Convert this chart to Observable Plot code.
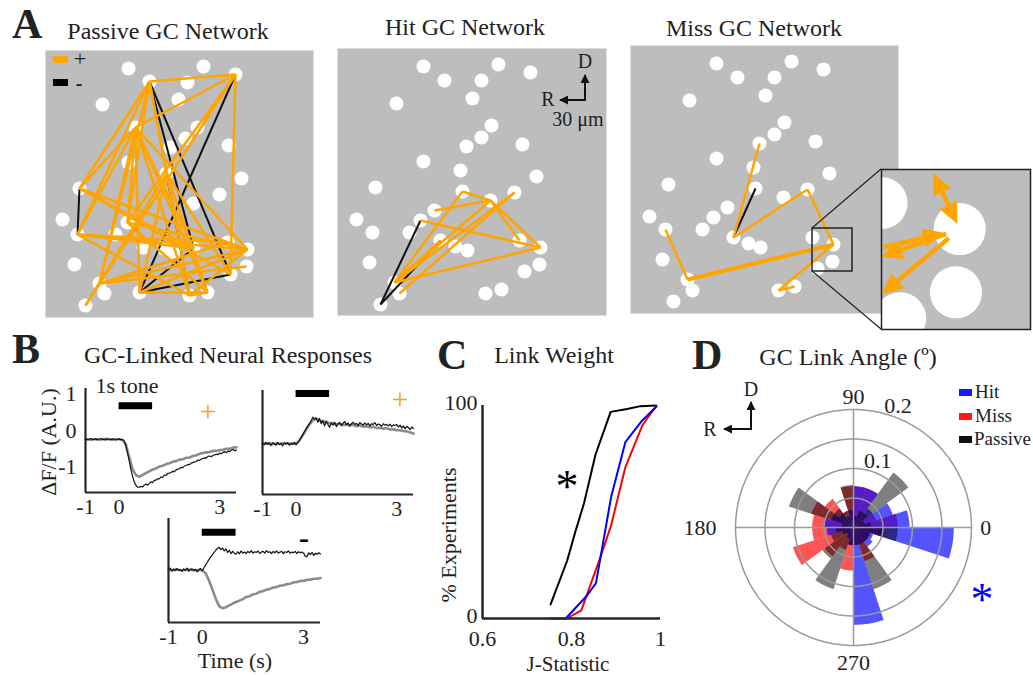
<!DOCTYPE html>
<html><head><meta charset="utf-8">
<script src="https://cdn.jsdelivr.net/npm/d3@7"></script>
<script src="https://cdn.jsdelivr.net/npm/@observablehq/plot@0.6"></script>
<style>
body{margin:0;background:#fff;}
#fig{position:relative;width:1033px;height:675px;overflow:hidden;background:#fff;}
</style></head>
<body><div id="fig"></div>
<script>
// ---------------- DATA ----------------
// Panel A: cell positions inside each 268×268 field
const passiveDots = [[83,18],[158,16],[190,24],[104,31],[142,32],[57,54],[133,49],[152,77],[140,88],[90,77],[183,95],[83,112],[125,97],[196,128],[174,144],[34,138],[121,123],[148,153],[17,169],[82,172],[32,184],[70,184],[98,197],[118,198],[128,202],[182,192],[202,199],[29,214],[201,216],[185,224],[54,233],[59,243],[40,255],[94,242],[144,245],[162,242],[148,198]];
const taskDots = [[86,18],[161,16],[193,24],[107,32],[144,32],[59,55],[135,50],[154,77],[144,89],[129,98],[185,96],[86,113],[123,122],[199,128],[38,139],[125,143],[177,144],[153,152],[97,162],[19,171],[83,172],[35,184],[72,184],[103,192],[118,198],[130,202],[182,192],[203,199],[32,214],[202,216],[187,223],[57,234],[62,245],[43,256],[148,245],[164,241]];
const passivePos = [[4,3],[3,30],[4,16],[4,21],[4,20],[4,35],[4,31],[4,17],[3,10],[3,33],[3,20],[10,16],[10,21],[10,20],[10,34],[10,35],[10,36],[10,27],[10,31],[10,37],[16,27],[16,30],[16,37],[21,27],[21,26],[21,35],[21,37],[20,27],[20,36],[31,27],[31,29],[31,26],[34,27],[34,36],[35,36],[35,27],[17,34],[17,33],[17,30],[17,36]];
const passiveNeg = [[16,21],[4,37],[4,30],[3,34],[34,30],[34,37],[17,35]];
const hitPos = [[19,18],[16,18],[18,28],[18,27],[21,28],[28,32],[17,32],[17,33],[18,32],[16,32],[24,32]];
const hitNeg = [[34,21],[34,24]];
const missPos = [[10,24],[24,17],[17,28],[22,32],[28,35],[35,36]];
const missPosDouble = [[28,32]];
const missNeg = [[16,24]];
const zoomRegion = {x1:182, x2:222, y1:183, y2:226};
// inset arrows: [fromDot, towardDot, startDist, endDist]
const insetArrows = [[28,17,9,1.8],[28,17,9,16.3],[28,32,21,4.7],[28,34,3.8,22],[28,35,3.8,27]];

// Panel B: traces
const tSec = [-1.0,-0.9,-0.8,-0.7,-0.6,-0.5,-0.4,-0.3,-0.2,-0.1,0.0,0.1,0.2,0.3,0.4,0.5,0.6,0.7,0.8,0.9,1.0,1.1,1.2,1.3,1.4,1.5,1.6,1.7,1.8,1.9,2.0,2.1,2.2,2.3,2.4,2.5,2.6,2.7,2.8,2.9,3.0,3.1,3.2,3.3,3.4,3.5];
const tFine = [-1.0,-0.95,-0.9,-0.85,-0.8,-0.75,-0.7,-0.65,-0.6,-0.55,-0.5,-0.45,-0.4,-0.35,-0.3,-0.25,-0.2,-0.15,-0.1,-0.05,0.0,0.05,0.1,0.15,0.2,0.25,0.3,0.35,0.4,0.45,0.5,0.55,0.6,0.65,0.7,0.75,0.8,0.85,0.9,0.95,1.0,1.05,1.1,1.15,1.2,1.25,1.3,1.35,1.4,1.45,1.5,1.55,1.6,1.65,1.7,1.75,1.8,1.85,1.9,1.95,2.0,2.05,2.1,2.15,2.2,2.25,2.3,2.35,2.4,2.45,2.5,2.55,2.6,2.65,2.7,2.75,2.8,2.85,2.9,2.95,3.0,3.05,3.1,3.15,3.2,3.25,3.3,3.35,3.4,3.45,3.5];
const gray1 = [-0.24,-0.25,-0.24,-0.24,-0.25,-0.24,-0.23,-0.24,-0.25,-0.24,-0.24,-0.26,-0.38,-0.72,-1.05,-1.22,-1.27,-1.22,-1.17,-1.12,-1.07,-1.04,-0.99,-0.97,-0.92,-0.9,-0.86,-0.84,-0.8,-0.79,-0.75,-0.74,-0.7,-0.68,-0.64,-0.62,-0.6,-0.59,-0.56,-0.56,-0.54,-0.53,-0.5,-0.5,-0.47,-0.46];
const black1 = [-0.23,-0.25,-0.24,-0.22,-0.26,-0.24,-0.23,-0.25,-0.24,-0.22,-0.25,-0.24,-0.26,-0.23,-0.24,-0.25,-0.23,-0.24,-0.26,-0.24,-0.23,-0.25,-0.25,-0.28,
  -0.40,-0.60,-0.82,-1.05,-1.25,-1.40,-1.50,-1.55,-1.56,-1.53,-1.55,-1.50,-1.47,-1.50,-1.45,-1.41,-1.43,
  -1.37,-1.36,-1.32,-1.33,-1.27,-1.29,-1.22,-1.23,-1.18,-1.17,-1.15,-1.12,-1.13,-1.08,-1.06,-1.05,-1.01,-1.02,-0.97,-0.96,
  -0.93,-0.94,-0.89,-0.88,-0.86,-0.85,-0.81,-0.82,-0.78,-0.77,-0.75,-0.76,-0.71,-0.70,-0.72,-0.68,-0.67,-0.65,-0.66,-0.62,
  -0.64,-0.60,-0.58,-0.61,-0.56,-0.58,-0.54,-0.52,-0.56,-0.53];
const gray2 = [-0.3,-0.31,-0.29,-0.32,-0.3,-0.31,-0.3,-0.29,-0.31,-0.3,-0.31,-0.22,-0.08,0.08,0.22,0.33,0.38,0.33,0.29,0.3,0.25,0.26,0.22,0.24,0.2,0.22,0.19,0.21,0.17,0.19,0.16,0.17,0.14,0.16,0.12,0.13,0.1,0.12,0.08,0.09,0.06,0.06,0.04,0.03,0.0,-0.03];
const black2 = [-0.30,-0.34,-0.27,-0.33,-0.29,-0.36,-0.28,-0.31,-0.35,-0.27,-0.33,-0.30,-0.37,-0.29,-0.32,-0.28,-0.35,-0.30,-0.33,-0.27,-0.34,-0.28,-0.22,-0.14,
  -0.06,0.02,0.10,0.18,0.24,0.32,0.42,0.36,0.40,0.28,0.38,0.24,0.33,0.18,0.30,0.22,0.14,
  0.26,0.20,0.28,0.16,0.24,0.27,0.19,0.25,0.30,0.21,0.26,0.18,0.24,0.28,0.22,0.25,0.19,0.27,0.23,0.20,
  0.26,0.21,0.25,0.18,0.24,0.22,0.27,0.19,0.23,0.21,0.17,0.24,0.20,0.22,0.18,0.23,0.16,0.21,0.19,0.22,
  0.15,0.20,0.12,0.18,0.10,0.17,0.13,0.08,0.15,0.11];
const gray3 = [-0.26,-0.27,-0.25,-0.26,-0.27,-0.26,-0.25,-0.26,-0.27,-0.26,-0.27,-0.35,-0.55,-0.8,-1.05,-1.25,-1.31,-1.28,-1.23,-1.18,-1.14,-1.1,-1.06,-1.0,-0.98,-0.93,-0.91,-0.86,-0.84,-0.8,-0.78,-0.74,-0.73,-0.69,-0.68,-0.65,-0.64,-0.6,-0.59,-0.56,-0.56,-0.53,-0.53,-0.5,-0.5,-0.48];
const black3 = [-0.26,-0.21,-0.29,-0.24,-0.28,-0.22,-0.27,-0.25,-0.30,-0.23,-0.27,-0.21,-0.29,-0.25,-0.23,-0.28,-0.24,-0.31,-0.25,-0.22,-0.28,-0.20,-0.12,-0.05,
  0.03,0.10,0.16,0.22,0.28,0.33,0.36,0.30,0.34,0.26,0.32,0.22,0.28,0.19,0.25,0.20,0.17,
  0.24,0.18,0.26,0.20,0.23,0.19,0.25,0.21,0.27,0.20,0.24,0.22,0.26,0.19,0.23,0.25,0.20,0.27,0.22,0.24,
  0.19,0.25,0.21,0.26,0.20,0.23,0.25,0.19,0.24,0.22,0.26,0.20,0.23,0.21,0.25,0.19,0.24,0.21,0.23,0.20,
  0.12,0.10,0.21,0.16,0.22,0.14,0.20,0.17,0.21,0.18];
const toneOn = 0, toneOff = 1;
const toneLevel = [0.68, 1.07, 0.77];
const bXTicks = [-1,0,3];
const bYTicks = [-1,0,1];

// Panel C: cumulative link weight distributions
const jPassive = [0.753,0.79,0.809,0.828,0.854,0.888,0.925,0.955,0.989];
const pctPassive = [6.6,27,41,54,77,97,98.4,99.7,100];
const jMiss = [0.79,0.822,0.865,0.889,0.921,0.959,0.991];
const pctMiss = [0,3.8,28.8,43.7,71,90.6,100];
const jHit = [0.753,0.787,0.835,0.855,0.889,0.921,0.959,0.991];
const pctHit = [0,0,10.8,16.6,57,82.8,93,99.5];
const cXTicks = [0.6,0.8,1];
const cYTicks = [0,100];

// Panel D: link angle histograms, 20 bins of 18°
const binWidth = 18;
const hitAngle     = [0.095,0.07,0.04,0.07,0.07,0.03,0.02,0.03,0.04,0.05,0.045,0.02,0.015,0.02,0.03,0.165,0.03,0.04,0.035,0.17];
const missAngle    = [0.075,0.04,0.03,0.07,0.07,0.07,0.03,0.06,0.075,0.07,0.07,0.108,0.06,0.04,0.073,0.03,0.06,0.03,0.03,0.05];
const passiveAngle = [0.03,0.02,0.115,0.03,0.02,0.072,0.03,0.04,0.115,0.02,0.03,0.04,0.065,0.11,0.03,0.03,0.11,0.03,0.03,0.075];
const ringValues = [0.05,0.1,0.15,0.2];
const ringLabels = [0.1,0.2];
const angleLabels = [{a:0,label:"0",r:0.224},{a:90,label:"90",r:0.222},{a:180,label:"180",r:0.26},{a:270,label:"270",r:0.23}];

// ---------------- STYLE / HELPERS ----------------
const FONT = '"Liberation Serif","Times New Roman",Times,serif';
const INK = "#222";
const GRAY = "#bdbdbd";
const ORANGE = "#ffa500";
const baseStyle = {fontFamily: FONT, fontSize: "22px", color: INK, background: "transparent", overflow: "visible"};
const fig = document.getElementById("fig");
function place(el, left, top) {
  el.style.position = "absolute"; el.style.left = left + "px"; el.style.top = top + "px";
  fig.appendChild(el); return el;
}
const fmt = d => String(d);

// ---------------- PANEL A ----------------
function netPlot(dots, pos, neg, size, extra = [], posThick = []) {
  const L = E => E.map(([a, b]) => ({x1: dots[a-1][0], y1: dots[a-1][1], x2: dots[b-1][0], y2: dots[b-1][1]}));
  return Plot.plot({
    width: size[0], height: size[1], margin: 0,
    x: {domain: [0, size[0]], axis: null}, y: {domain: [size[1], 0], axis: null},
    style: baseStyle,
    marks: [
      Plot.frame({fill: GRAY, stroke: "none"}),
      Plot.dot(dots, {x: d => d[0], y: d => d[1], r: 7, fill: "white"}),
      Plot.link(L(neg), {x1: "x1", y1: "y1", x2: "x2", y2: "y2", stroke: "#111", strokeWidth: 2}),
      Plot.link(L(pos), {x1: "x1", y1: "y1", x2: "x2", y2: "y2", stroke: ORANGE, strokeWidth: 2.5}),
      Plot.link(L(posThick), {x1: "x1", y1: "y1", x2: "x2", y2: "y2", stroke: ORANGE, strokeWidth: 4}),
      ...extra
    ]
  });
}
place(netPlot(passiveDots, passivePos, passiveNeg, [268, 267]), 45, 50);
place(netPlot(taskDots, hitPos, hitNeg, [269, 267]), 337, 48);
place(netPlot(taskDots, missPos, missNeg, [268, 268],
  [Plot.rect([zoomRegion], {x1: "x1", x2: "x2", y1: "y1", y2: "y2", fill: "none", stroke: INK, strokeWidth: 1.5})],
  missPosDouble), 630, 45);

// inset (magnified view of zoomRegion)
const insetW = 149, insetH = 160, insetLeft = 881, insetTop = 169;
const headLen = 5.2, headHalf = 2.4, shaft = [], heads = [];
insetArrows.forEach(([a, b, s0, s1], i) => {
  const A = taskDots[a-1], B = taskDots[b-1];
  const dx = B[0]-A[0], dy = B[1]-A[1], n = Math.hypot(dx, dy), ux = dx/n, uy = dy/n;
  const sgn = s1 > s0 ? 1 : -1;
  const tx = A[0]+ux*s1, ty = A[1]+uy*s1;
  const bx = tx - sgn*ux*headLen, by = ty - sgn*uy*headLen;
  shaft.push({x1: A[0]+ux*s0, y1: A[1]+uy*s0, x2: tx - sgn*ux*headLen*0.7, y2: ty - sgn*uy*headLen*0.7});
  heads.push({k: i, x: tx, y: ty}, {k: i, x: bx - uy*headHalf, y: by + ux*headHalf}, {k: i, x: bx + uy*headHalf, y: by - ux*headHalf}, {k: i, x: tx, y: ty});
});
place(Plot.plot({
  width: insetW, height: insetH, margin: 0,
  x: {domain: [zoomRegion.x1, zoomRegion.x2], axis: null},
  y: {domain: [zoomRegion.y2, zoomRegion.y1], axis: null},
  style: baseStyle,
  marks: [
    Plot.frame({fill: GRAY, stroke: "none"}),
    Plot.dot(taskDots, {x: d => d[0], y: d => d[1], r: 7 * insetW / (zoomRegion.x2 - zoomRegion.x1), fill: "white", clip: true}),
    Plot.link(shaft, {x1: "x1", y1: "y1", x2: "x2", y2: "y2", stroke: ORANGE, strokeWidth: 4.5, clip: true}),
    Plot.line(heads, {x: "x", y: "y", z: "k", fill: ORANGE, stroke: ORANGE, strokeWidth: 1, curve: "linear", clip: true}),
    Plot.frame({stroke: INK, strokeWidth: 1.5})
  ]
}), insetLeft, insetTop);

// ---------------- PANEL B ----------------
function respPlot(gray, black, level, showY, w) {
  const gRows = tSec.map((t, i) => ({t, v: gray[i]}));
  const bRows = tFine.map((t, i) => ({t, v: black[i]}));
  return Plot.plot({
    width: w, height: 152, marginLeft: 45, marginRight: 10, marginTop: 18, marginBottom: 30,
    x: {domain: [-1, 3.5]}, y: {domain: [-1.7, 1.15], axis: showY ? undefined : null},
    style: baseStyle,
    marks: [
      Plot.axisX({ticks: bXTicks, tickSize: 0, tickPadding: 6, tickFormat: fmt, label: null}),
      showY ? Plot.axisY({ticks: bYTicks, tickSize: 0, tickPadding: 9, tickFormat: fmt, label: null}) : null,
      Plot.ruleY([{s: toneOn, e: toneOff, y: level}], {x1: "s", x2: "e", y: "y", stroke: "#000", strokeWidth: 7}),
      Plot.line(gRows, {x: "t", y: "v", stroke: "#8c8c8c", strokeWidth: 2.6}),
      Plot.line(bRows, {x: "t", y: "v", stroke: "#111", strokeWidth: 1.2}),
      Plot.ruleX([-1], {stroke: "#262626", strokeWidth: 2.2}),
      Plot.ruleY([-1.7], {stroke: "#262626", strokeWidth: 2.2})
    ]
  });
}
place(respPlot(gray1, black1, toneLevel[0], true, 206), 40, 370);
place(respPlot(gray2, black2, toneLevel[1], false, 206), 217, 372);
place(respPlot(gray3, black3, toneLevel[2], false, 207), 123, 500);

// ---------------- PANEL C ----------------
const cBlack = jPassive.map((j, i) => ({j, p: pctPassive[i]}));
const cRed = jMiss.map((j, i) => ({j, p: pctMiss[i]}));
const cBlue = jHit.map((j, i) => ({j, p: pctHit[i]}));
place(Plot.plot({
  width: 255, height: 303, marginLeft: 62, marginRight: 15, marginTop: 35, marginBottom: 55,
  x: {domain: [0.6, 1]}, y: {domain: [0, 100]},
  style: baseStyle,
  marks: [
    Plot.axisX({ticks: cXTicks, tickSize: 0, tickPadding: 12, tickFormat: fmt, label: null}),
    Plot.axisY({ticks: cYTicks, tickSize: 0, tickPadding: 5, tickFormat: fmt, label: null, dy: -3}),
    Plot.line(cBlack, {x: "j", y: "p", stroke: "#000", strokeWidth: 2}),
    Plot.line(cRed, {x: "j", y: "p", stroke: "#ff0000", strokeWidth: 2}),
    Plot.line(cBlue, {x: "j", y: "p", stroke: "#0000ff", strokeWidth: 2}),
    Plot.ruleX([0.6], {stroke: "#262626", strokeWidth: 2.5}),
    Plot.ruleY([0], {stroke: "#262626", strokeWidth: 2.5})
  ]
}), 420, 370);

// ---------------- PANEL D ----------------
const rad = a => a * Math.PI / 180;
function wedges(vals, key) {
  const out = [];
  vals.forEach((r, i) => {
    const a0 = i * binWidth, a1 = a0 + binWidth;
    out.push({k: key + i, x: 0, y: 0});
    for (let j = 0; j <= 6; j++) {
      const a = rad(a0 + (a1 - a0) * j / 6);
      out.push({k: key + i, x: r * Math.cos(a), y: r * Math.sin(a)});
    }
    out.push({k: key + i, x: 0, y: 0});
  });
  return out;
}
const rings = ringValues.flatMap(r => d3.range(0, 361, 4).map(a => ({k: r, x: r * Math.cos(rad(a)), y: r * Math.sin(rad(a))})));
place(Plot.plot({
  width: 340, height: 295, marginLeft: 45, marginRight: 59, marginTop: 29, marginBottom: 30,
  x: {domain: [-0.2, 0.2], axis: null}, y: {domain: [-0.2, 0.2], axis: null},
  style: baseStyle,
  marks: [
    Plot.line(wedges(missAngle, "m"), {x: "x", y: "y", z: "k", fill: "#ff0000", fillOpacity: 0.67, stroke: "none", curve: "linear"}),
    Plot.line(wedges(hitAngle, "h"), {x: "x", y: "y", z: "k", fill: "#0000ff", fillOpacity: 0.67, stroke: "none", curve: "linear"}),
    Plot.line(wedges(passiveAngle, "p"), {x: "x", y: "y", z: "k", fill: "#000", fillOpacity: 0.5, stroke: "none", curve: "linear"}),
    Plot.line(rings, {x: "x", y: "y", z: "k", stroke: "#9a9a9a", strokeWidth: 1.5, curve: "linear"}),
    Plot.ruleX([0], {y1: -0.2, y2: 0.2, stroke: "#9a9a9a", strokeWidth: 1.5}),
    Plot.ruleY([0], {x1: -0.2, x2: 0.2, stroke: "#9a9a9a", strokeWidth: 1.5}),
    Plot.text(angleLabels, {x: d => d.r * Math.cos(rad(d.a)), y: d => d.r * Math.sin(rad(d.a)), text: "label", fontSize: 22, fill: INK}),
    Plot.text(ringLabels, {x: d => (d + 0.02) * Math.cos(rad(70)), y: d => (d + 0.02) * Math.sin(rad(70)), text: d => String(d), fontSize: 22, fill: INK})
  ]
}), 690, 380);

// ---------------- OVERLAY: titles, labels, annotations ----------------
const ov = d3.select(fig).append("svg").attr("width", 1033).attr("height", 675)
  .style("position", "absolute").style("left", 0).style("top", 0).style("pointer-events", "none")
  .style("font-family", FONT);
const defs = ov.append("defs");
defs.append("marker").attr("id", "ah").attr("viewBox", "0 0 10 10").attr("refX", 9).attr("refY", 5)
  .attr("markerWidth", 4.5).attr("markerHeight", 4.5).attr("orient", "auto")
  .append("path").attr("d", "M0,0L10,5L0,10z").attr("fill", "#111");

const texts = [
  {t: "A", x: 12, y: 38, s: 42, w: "bold", a: "start"},
  {t: "Passive GC Network", x: 168, y: 39, s: 24},
  {t: "Hit GC Network", x: 465, y: 35, s: 24},
  {t: "Miss GC Network", x: 754, y: 36, s: 24},
  {t: "+", x: 80, y: 66, s: 22},
  {t: "-", x: 79, y: 90, s: 20, w: "bold"},
  {t: "D", x: 585, y: 68, s: 20},
  {t: "R", x: 548, y: 106, s: 20},
  {t: "30 μm", x: 578, y: 126, s: 20},
  {t: "B", x: 12, y: 363, s: 42, w: "bold", a: "start"},
  {t: "GC-Linked Neural Responses", x: 228, y: 363, s: 24},
  {t: "1s tone", x: 127, y: 393, s: 22},
  {t: "+", x: 208, y: 421, s: 30, f: ORANGE},
  {t: "+", x: 400, y: 409, s: 30, f: ORANGE},
  {t: "-", x: 304, y: 548, s: 30, w: "bold", f: "#000"},
  {t: "ΔF/F (A.U.)", x: 56, y: 442, s: 22, r: -90},
  {t: "Time (s)", x: 235, y: 668, s: 22},
  {t: "C", x: 437, y: 369, s: 42, w: "bold", a: "start"},
  {t: "Link Weight", x: 554, y: 363, s: 24},
  {t: "% Experiments", x: 456, y: 535, s: 22, r: -90},
  {t: "J-Statistic", x: 568, y: 671, s: 21},
  {t: "*", x: 567, y: 502, s: 46, f: "#000"},
  {t: "D", x: 692, y: 369, s: 42, w: "bold", a: "start"},
  {t: "GC Link Angle (º)", x: 848, y: 365, s: 24},
  {t: "Hit", x: 975, y: 398, s: 19, a: "start"},
  {t: "Miss", x: 975, y: 422, s: 19, a: "start"},
  {t: "Passive", x: 974, y: 445, s: 19, a: "start"},
  {t: "D", x: 751, y: 396, s: 20},
  {t: "R", x: 710, y: 436, s: 20},
  {t: "*", x: 982, y: 615, s: 46, f: "#0000ff"}
];
ov.selectAll("text.lab").data(texts).join("text").attr("class", "lab")
  .attr("transform", d => `translate(${d.x},${d.y})` + (d.r ? ` rotate(${d.r})` : ""))
  .attr("text-anchor", d => d.a || "middle")
  .attr("font-size", d => d.s).attr("font-weight", d => d.w || "normal")
  .attr("fill", d => d.f || INK).text(d => d.t);

// legends
const legendRects = [
  {x: 53, y: 56, w: 15, h: 7, c: ORANGE}, {x: 53, y: 79, w: 15, h: 7, c: "#000"},
  {x: 959, y: 389, w: 13, h: 7, c: "#1a1aff"}, {x: 959, y: 413, w: 13, h: 7, c: "#ff1a1a"}, {x: 959, y: 436, w: 13, h: 7, c: "#111"}
];
ov.selectAll("rect.leg").data(legendRects).join("rect").attr("class", "leg")
  .attr("x", d => d.x).attr("y", d => d.y).attr("width", d => d.w).attr("height", d => d.h).attr("fill", d => d.c);

// orientation compasses
const compasses = [{x: 585, y: 100, len: 25}, {x: 751, y: 429, len: 27}];
compasses.forEach(c => {
  ov.append("line").attr("x1", c.x).attr("y1", c.y + 1).attr("x2", c.x).attr("y2", c.y - c.len)
    .attr("stroke", "#111").attr("stroke-width", 2).attr("marker-end", "url(#ah)");
  ov.append("line").attr("x1", c.x + 1).attr("y1", c.y).attr("x2", c.x - c.len).attr("y2", c.y)
    .attr("stroke", "#111").attr("stroke-width", 2).attr("marker-end", "url(#ah)");
});

// connectors from zoom box to inset
const zx1 = 630 + zoomRegion.x1, zy1 = 45 + zoomRegion.y1, zy2 = 45 + zoomRegion.y2;
[[zx1, zy1, insetLeft, insetTop], [zx1, zy2, insetLeft, insetTop + insetH]].forEach(([a, b, c, d]) =>
  ov.append("line").attr("x1", a).attr("y1", b).attr("x2", c).attr("y2", d).attr("stroke", INK).attr("stroke-width", 1.2));
</script>
</body></html>
